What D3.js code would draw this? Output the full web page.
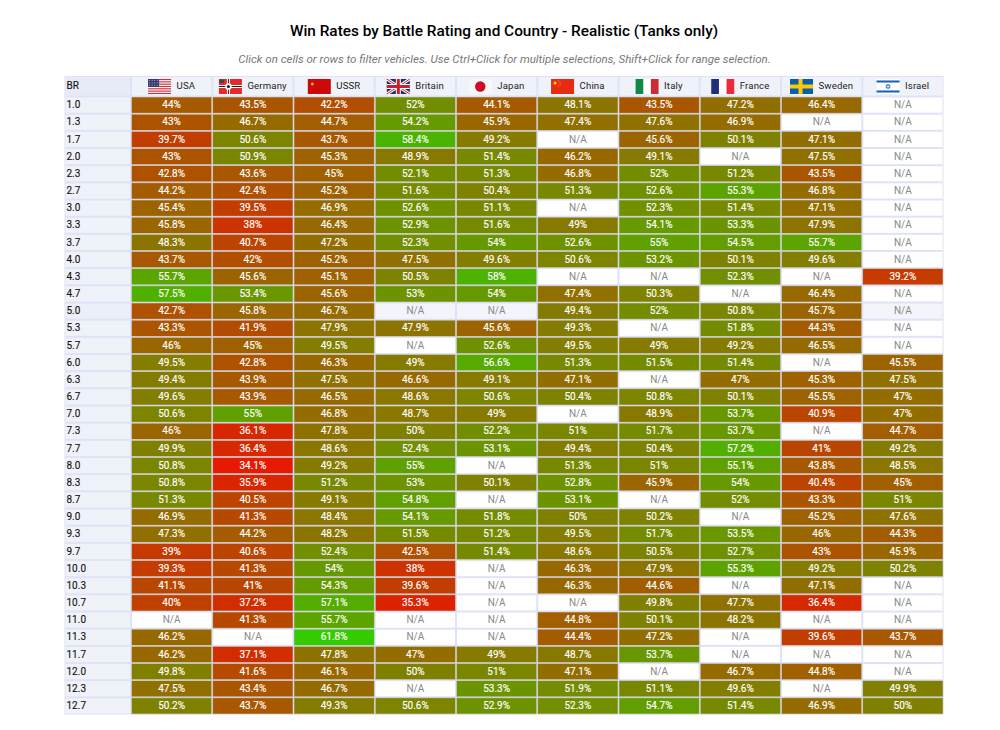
<!DOCTYPE html>
<html><head><meta charset="utf-8">
<script src="https://cdn.jsdelivr.net/npm/d3@7/dist/d3.min.js"></script>
<style>html,body{margin:0;padding:0;background:#fff}svg{display:block}text{font-family:Roboto,sans-serif}</style>
</head><body><div id="chart"></div>
<script>
const titleText = "Win Rates by Battle Rating and Country - Realistic (Tanks only)";
const subtitleText = "Click on cells or rows to filter vehicles. Use Ctrl+Click for multiple selections, Shift+Click for range selection.";
const battleRatings = ["1.0","1.3","1.7","2.0","2.3","2.7","3.0","3.3","3.7","4.0","4.3","4.7","5.0","5.3","5.7","6.0","6.3","6.7","7.0","7.3","7.7","8.0","8.3","8.7","9.0","9.3","9.7","10.0","10.3","10.7","11.0","11.3","11.7","12.0","12.3","12.7"];
const countries = ["USA","Germany","USSR","Britain","Japan","China","Italy","France","Sweden","Israel"];
const usa = [44,43,39.7,43,42.8,44.2,45.4,45.8,48.3,43.7,55.7,57.5,42.7,43.3,46,49.5,49.4,49.6,50.6,46,49.9,50.8,50.8,51.3,46.9,47.3,39,39.3,41.1,40,null,46.2,46.2,49.8,47.5,50.2];
const germany = [43.5,46.7,50.6,50.9,43.6,42.4,39.5,38,40.7,42,45.6,53.4,45.8,41.9,45,42.8,43.9,43.9,55,36.1,36.4,34.1,35.9,40.5,41.3,44.2,40.6,41.3,41,37.2,41.3,null,37.1,41.6,43.4,43.7];
const ussr = [42.2,44.7,43.7,45.3,45,45.2,46.9,46.4,47.2,45.2,45.1,45.6,46.7,47.9,49.5,46.3,47.5,46.5,46.8,47.8,48.6,49.2,51.2,49.1,48.4,48.2,52.4,54,54.3,57.1,55.7,61.8,47.8,46.1,46.7,49.3];
const britain = [52,54.2,58.4,48.9,52.1,51.6,52.6,52.9,52.3,47.5,50.5,53,null,47.9,null,49,46.6,48.6,48.7,50,52.4,55,53,54.8,54.1,51.5,42.5,38,39.6,35.3,null,null,47,50,null,50.6];
const japan = [44.1,45.9,49.2,51.4,51.3,50.4,51.1,51.6,54,49.6,58,54,null,45.6,52.6,56.6,49.1,50.6,49,52.2,53.1,null,50.1,null,51.8,51.2,51.4,null,null,null,null,null,49,51,53.3,52.9];
const china = [48.1,47.4,null,46.2,46.8,51.3,null,49,52.6,50.6,null,47.4,49.4,49.3,49.5,51.3,47.1,50.4,null,51,49.4,51.3,52.8,53.1,50,49.5,48.6,46.3,46.3,null,44.8,44.4,48.7,47.1,51.9,52.3];
const italy = [43.5,47.6,45.6,49.1,52,52.6,52.3,54.1,55,53.2,null,50.3,52,null,49,51.5,null,50.8,48.9,51.7,50.4,51,45.9,null,50.2,51.7,50.5,47.9,44.6,49.8,50.1,47.2,53.7,null,51.1,54.7];
const france = [47.2,46.9,50.1,null,51.2,55.3,51.4,53.3,54.5,50.1,52.3,null,50.8,51.8,49.2,51.4,47,50.1,53.7,53.7,57.2,55.1,54,52,null,53.5,52.7,55.3,null,47.7,48.2,null,null,46.7,49.6,51.4];
const sweden = [46.4,null,47.1,47.5,43.5,46.8,47.1,47.9,55.7,49.6,null,46.4,45.7,44.3,46.5,null,45.3,45.5,40.9,null,41,43.8,40.4,43.3,45.2,46,43,49.2,47.1,36.4,null,39.6,null,44.8,null,46.9];
const israel = [null,null,null,null,null,null,null,null,null,null,39.2,null,null,null,null,45.5,47.5,47,47,44.7,49.2,48.5,45,51,47.6,44.3,45.9,50.2,null,null,null,43.7,null,null,49.9,50];
const seriesValues = [usa,germany,ussr,britain,japan,china,italy,france,sweden,israel];
const hoveredRow = "5.0";

const W=1000,H=730,L=64.5,BRW=66.5,R=943.5,T=76,HH=20.5,B=714.5;
const svg=d3.select("#chart").append("svg").attr("width",W).attr("height",H);
svg.append("text").attr("x",504).attr("y",36).attr("text-anchor","middle").attr("font-size",15.36).attr("font-weight",500).attr("fill","#000").text(titleText);
svg.append("text").attr("x",504.5).attr("y",62.5).attr("text-anchor","middle").attr("font-size",11.52).attr("font-style","italic").attr("fill","#777").text(subtitleText);

const x=d3.scaleBand().domain(countries).range([L+BRW,R]);
const y=d3.scaleBand().domain(battleRatings).range([T+HH,B]);
const color=d3.scaleLinear().domain([30,50,70]).range(["#ff0000","#808000","#00ff00"]).clamp(true);

svg.append("rect").attr("x",L).attr("y",T).attr("width",R-L).attr("height",B-T).attr("fill","#dfe3f5");
// header
svg.append("rect").attr("x",L+1).attr("y",T+1).attr("width",BRW-2).attr("height",HH-2).attr("fill","#e8ebf7");
svg.append("text").attr("x",L+2).attr("y",T+13).attr("font-size",10).attr("fill","#111").attr("stroke","#111").attr("stroke-width",.12).text("BR");
const flags={
 USA(g){g.append("rect").attr("width",23).attr("height",15).attr("fill","#fff");
  d3.range(0,7).forEach(i=>g.append("rect").attr("y",i*15/6.5).attr("width",23).attr("height",15/13).attr("fill","#c8313e"));
  g.append("rect").attr("width",11).attr("height",8).attr("fill","#3c3b6e");
  d3.range(0,4).forEach(i=>d3.range(0,3).forEach(j=>g.append("rect").attr("x",1.2+i*2.5).attr("y",1.2+j*2.3).attr("width",.8).attr("height",.8).attr("fill","#ccd")));},
 Germany(g){g.append("rect").attr("width",23).attr("height",15).attr("fill","#e62b2b");
  g.append("rect").attr("y",6).attr("width",23).attr("height",3).attr("fill","#fff");
  g.append("rect").attr("x",8).attr("width",3).attr("height",15).attr("fill","#fff");
  g.append("rect").attr("y",7).attr("width",23).attr("height",1).attr("fill","#222");
  g.append("rect").attr("x",9).attr("width",1).attr("height",15).attr("fill","#222");
  g.append("rect").attr("x",.5).attr("y",.5).attr("width",4.5).attr("height",3.5).attr("fill","#444");
  g.append("circle").attr("cx",9.5).attr("cy",7.5).attr("r",3.2).attr("fill","#fff");
  g.append("circle").attr("cx",9.5).attr("cy",7.5).attr("r",1.6).attr("fill","#222");},
 USSR(g){g.append("rect").attr("width",23).attr("height",15).attr("fill","#cc0a0a");
  g.append("circle").attr("cx",4.5).attr("cy",5).attr("r",1.5).attr("fill","#e8b020");},
 Britain(g){g.append("rect").attr("width",23).attr("height",15).attr("fill","#1f2f6e");
  g.append("path").attr("d","M0 0L23 15M23 0L0 15").attr("stroke","#fff").attr("stroke-width",3);
  g.append("path").attr("d","M0 0L23 15M23 0L0 15").attr("stroke","#c8202f").attr("stroke-width",1);
  g.append("path").attr("d","M11.5 0V15M0 7.5H23").attr("stroke","#fff").attr("stroke-width",5);
  g.append("path").attr("d","M11.5 0V15M0 7.5H23").attr("stroke","#c8202f").attr("stroke-width",3);},
 Japan(g){g.append("rect").attr("width",23).attr("height",15).attr("fill","#f7f7f9");
  g.append("circle").attr("cx",11.5).attr("cy",7.5).attr("r",5.2).attr("fill","#cc0a22");},
 China(g){g.append("rect").attr("width",23).attr("height",15).attr("fill","#e62b10");
  g.append("circle").attr("cx",4).attr("cy",4).attr("r",1.6).attr("fill","#f5d020");
  [[7.5,1.8],[9,3.5],[9,5.5],[7.5,7]].forEach(p=>g.append("circle").attr("cx",p[0]).attr("cy",p[1]).attr("r",.5).attr("fill","#f5d020"));},
 Italy(g){g.append("rect").attr("width",23).attr("height",15).attr("fill","#fff");
  g.append("rect").attr("width",7.7).attr("height",15).attr("fill","#0f8a46");
  g.append("rect").attr("x",15.3).attr("width",7.7).attr("height",15).attr("fill","#cf2b37");},
 France(g){g.append("rect").attr("width",23).attr("height",15).attr("fill","#fff");
  g.append("rect").attr("width",7.7).attr("height",15).attr("fill","#1f2f78");
  g.append("rect").attr("x",15.3).attr("width",7.7).attr("height",15).attr("fill","#ec2a3a");},
 Sweden(g){g.append("rect").attr("width",23).attr("height",15).attr("fill","#0b5fa5");
  g.append("rect").attr("x",8.5).attr("width",4).attr("height",15).attr("fill","#fcc80a");
  g.append("rect").attr("y",5.5).attr("width",23).attr("height",4).attr("fill","#fcc80a");},
 Israel(g){g.append("rect").attr("width",23).attr("height",15).attr("fill","#fff");
  g.append("rect").attr("y",1.5).attr("width",23).attr("height",2).attr("fill","#1660b0");
  g.append("rect").attr("y",11.5).attr("width",23).attr("height",2).attr("fill","#1660b0");
  g.append("path").attr("d","M11.5 5L13.7 8.8H9.3ZM11.5 10L9.3 6.2H13.7Z").attr("fill","none").attr("stroke","#1660b0").attr("stroke-width",.6);}
};
countries.forEach(c=>{
  const g=svg.append("g").attr("transform",`translate(${x(c)},${T})`);
  g.append("rect").attr("x",1).attr("y",1).attr("width",x.bandwidth()-2).attr("height",HH-2).attr("fill","#f0f2fa");
  const t=g.append("text").attr("y",13).attr("font-size",9.6).attr("letter-spacing",.15).attr("fill","#222").text(c);
  const w=t.node().getComputedTextLength(), total=23+5.5+w, s=(x.bandwidth()-total)/2;
  t.attr("x",s+28.5);
  flags[c](g.append("g").attr("transform",`translate(${s},3)`));
});
// rows
battleRatings.forEach(b=>{
  svg.append("rect").attr("x",L+1).attr("y",y(b)+1).attr("width",BRW-2).attr("height",y.bandwidth()-2).attr("fill",b===hoveredRow?"#eceef8":"#f0f2fa");
  svg.append("text").attr("x",L+2).attr("y",y(b)+y.bandwidth()/2+3.2).attr("font-size",10).attr("fill","#111").attr("stroke","#111").attr("stroke-width",.12).text(b);
});
// cells
const cells=svg.append("g");
countries.forEach((c,ci)=>{
  battleRatings.forEach((b,ri)=>{
    const v=seriesValues[ci][ri];
    const bg=cells.append("rect").attr("x",x(c)+(v==null?1:0.5)).attr("y",y(b)+(v==null?1:0.5))
      .attr("width",x.bandwidth()-(v==null?2:1)).attr("height",y.bandwidth()-(v==null?2:1))
      .attr("fill",v==null?(b===hoveredRow?"#f4f5fb":"#fff"):color(v));
    if(v!=null) bg.attr("stroke","#cfcfd6").attr("stroke-width",.6);
    const t=cells.append("text").attr("x",x(c)+x.bandwidth()/2).attr("y",y(b)+y.bandwidth()/2+3.2)
      .attr("text-anchor","middle").attr("font-size",10).attr("fill",v==null?"#888":"#fff")
      .text(v==null?"N/A":v+"%");
    if(v!=null) t.attr("stroke","#fff").attr("stroke-width",.15);
  });
});
</script></body></html>
